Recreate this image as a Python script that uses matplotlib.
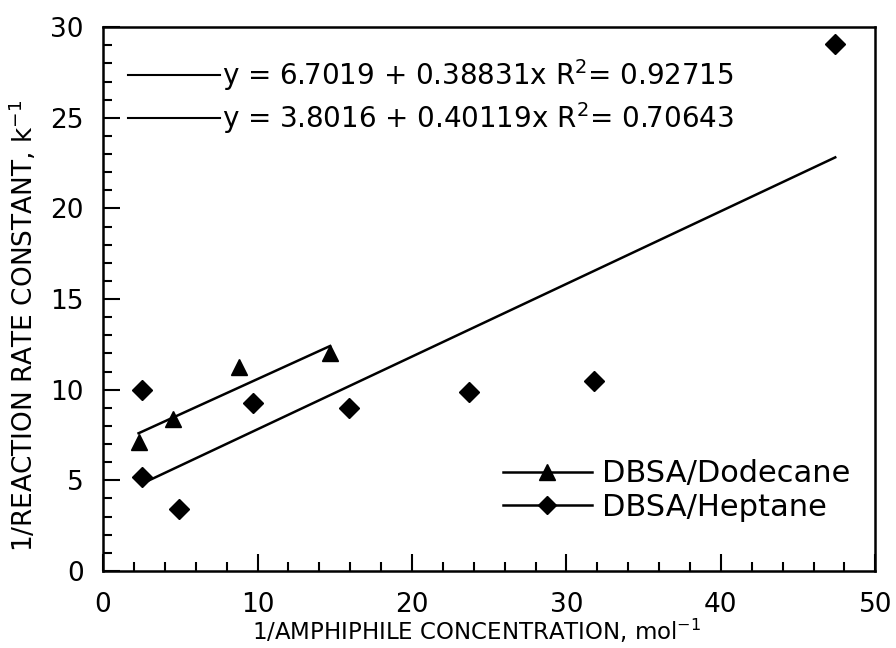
import matplotlib.pyplot as plt
import numpy as np

plt.rcParams['font.family'] = ['DejaVu Sans']

# data
dodecane_x = [2.3, 4.5, 8.8, 14.7]
dodecane_y = [7.1, 8.4, 11.25, 12.05]
heptane_x = [2.5, 2.5, 4.9, 9.7, 15.9, 23.7, 31.8, 47.4]
heptane_y = [10.0, 5.2, 3.4, 9.25, 9.0, 9.85, 10.5, 29.05]

# linear fits printed on the chart
fit_dodecane = (6.7019, 0.38831, 0.92715)
fit_heptane = (3.8016, 0.40119, 0.70643)

fig = plt.figure(figsize=(8.96, 6.48), dpi=100)
ax = fig.add_axes([0.115, 0.119, 0.862, 0.839])

# fit lines over each data range
xd = np.array([min(dodecane_x), max(dodecane_x)])
xh = np.array([min(heptane_x), max(heptane_x)])
ax.plot(xd, fit_dodecane[0] + fit_dodecane[1] * xd, 'k-', lw=1.8)
ax.plot(xh, fit_heptane[0] + fit_heptane[1] * xh, 'k-', lw=1.8)

ax.plot(dodecane_x, dodecane_y, 'k^', ms=12, ls='none')
ax.plot(heptane_x, heptane_y, 'kD', ms=10, ls='none')

# legend entries drawn as line + marker (like the original)
hd, = ax.plot([], [], 'k-', marker='^', ms=11, lw=1.8)
hh, = ax.plot([], [], 'k-', marker='D', ms=9, lw=1.8)
ax.legend([hd, hh], ['DBSA/Dodecane', 'DBSA/Heptane'], loc='upper left',
          bbox_to_anchor=(25.9, 6.15), bbox_transform=ax.transData,
          frameon=False, fontsize=22, handlelength=2.9, handletextpad=0.35,
          labelspacing=0.15, borderpad=0, borderaxespad=0)

# equation lines in the top left
for yy, fit in [(27.35, fit_dodecane), (25.0, fit_heptane)]:
    ax.plot([1.6, 7.6], [yy, yy], 'k-', lw=1.5)
    ax.text(7.7, yy, 'y = %s + %sx R$^2$= %s' % (fit[0], fit[1], fit[2]),
            fontsize=20, va='center', ha='left')

ax.set_xlim(0, 50)
ax.set_ylim(0, 30)
ax.set_xticks(np.arange(0, 51, 10))
ax.set_xticks(np.arange(0, 51, 2), minor=True)
ax.set_yticks(np.arange(0, 31, 5))
ax.set_yticks(np.arange(0, 31, 1), minor=True)
ax.tick_params(which='both', direction='in', top=False, right=False,
               width=1.5, labelsize=19)
ax.tick_params(axis='x', which='major', length=12, pad=15)
ax.tick_params(axis='y', which='major', length=12, pad=14)
ax.tick_params(which='minor', length=6.5)
for s in ax.spines.values():
    s.set_linewidth(1.8)

ax.set_xlabel('1/AMPHIPHILE CONCENTRATION, mol$^{-1}$', fontsize=16.5)
ax.set_ylabel('1/REACTION RATE CONSTANT, k$^{-1}$', fontsize=19)
ax.xaxis.set_label_coords(0.483, -0.085)
ax.yaxis.set_label_coords(-0.083, 0.45)

fig.savefig('out.png', dpi=100)
